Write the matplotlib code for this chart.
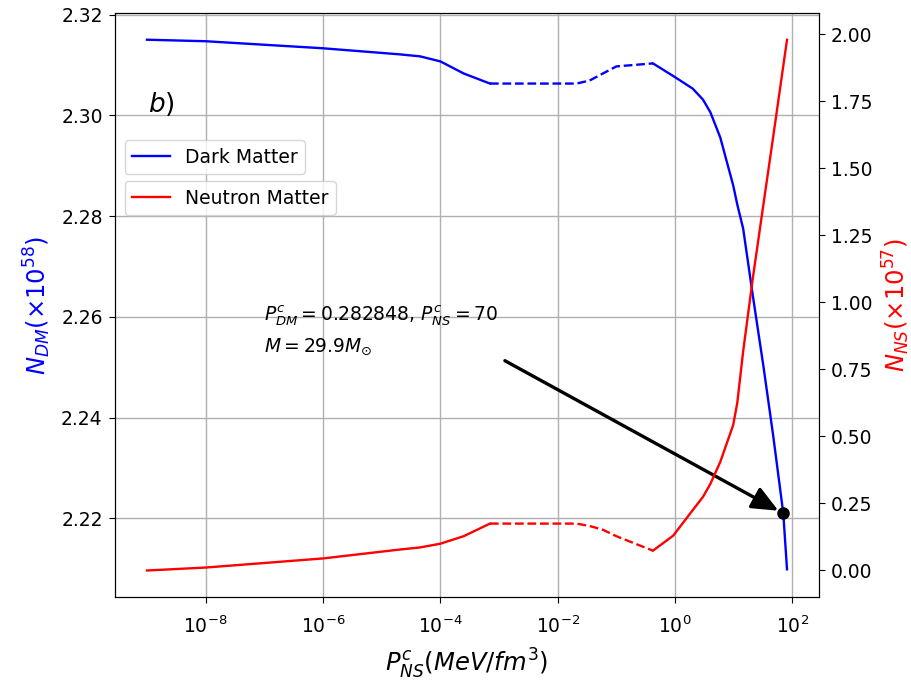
import matplotlib
matplotlib.use("Agg")
import matplotlib.pyplot as plt

# ---- data ----
# segment 1 (solid), segment 2 (dashed), segment 3 (solid)
p_seg1 = [1e-9, 1e-8, 1e-6, 2e-5, 4.5e-5, 1e-4, 2.5e-4, 7e-4]
p_seg2 = [7e-4, 2.1e-2, 3.5e-2, 5.9e-2, 0.1, 0.42]
p_seg3 = [0.42, 0.93, 2.0, 3.0, 4.0, 5.9, 9.8, 11.5, 14.5, 21, 32, 47, 70, 81]

n_dm_seg1 = [2.3150, 2.3147, 2.3133, 2.3121, 2.3117, 2.3107, 2.3083, 2.3063]
n_dm_seg2 = [2.3063, 2.3063, 2.3069, 2.3083, 2.3097, 2.3103]
n_dm_seg3 = [2.3103, 2.3078, 2.3053, 2.3031, 2.3006, 2.2956, 2.2861, 2.2823,
             2.2775, 2.2645, 2.2503, 2.2365, 2.2210, 2.2099]

n_ns_seg1 = [0.000, 0.011, 0.045, 0.078, 0.086, 0.100, 0.128, 0.175]
n_ns_seg2 = [0.175, 0.175, 0.166, 0.152, 0.128, 0.074]
n_ns_seg3 = [0.074, 0.130, 0.225, 0.275, 0.323, 0.405, 0.543, 0.625, 0.818,
             1.085, 1.364, 1.617, 1.883, 1.980]

marker_p = 70
marker_ndm = 2.221
arrow_start = (1.26e-3, 2.2513)

left_ticks = [2.22, 2.24, 2.26, 2.28, 2.30, 2.32]
right_ticks = [0.00, 0.25, 0.50, 0.75, 1.00, 1.25, 1.50, 1.75, 2.00]

# ---- figure ----
fig = plt.figure(figsize=(9.12, 6.81), dpi=100)
ax1 = fig.add_axes([0.1256, 0.1233, 0.7725, 0.8576])
ax2 = ax1.twinx()

lw = 1.7
ax1.plot(p_seg1, n_dm_seg1, color='blue', lw=lw, label='Dark Matter')
ax1.plot(p_seg2, n_dm_seg2, color='blue', lw=lw, ls='--')
ax1.plot(p_seg3, n_dm_seg3, color='blue', lw=lw)

ax2.plot(p_seg1, n_ns_seg1, color='red', lw=lw, label='Neutron Matter')
ax2.plot(p_seg2, n_ns_seg2, color='red', lw=lw, ls='--')
ax2.plot(p_seg3, n_ns_seg3, color='red', lw=lw)

ax1.set_xscale('log')
ax1.set_xlim(2.8e-10, 2.85e2)
ax1.set_ylim(2.2044, 2.3203)
ax2.set_ylim(-0.099, 2.08)
ax1.set_yticks(left_ticks)
ax2.set_yticks(right_ticks)

ax1.grid(True, color='#b0b0b0', lw=1.0)
ax1.set_axisbelow(True)

ax1.tick_params(axis='both', labelsize=13.5, length=4.5)
ax1.tick_params(axis='x', pad=9)
ax1.tick_params(axis='y', pad=4)
ax2.tick_params(labelsize=13.5, length=4.5, pad=4)

ax1.set_xlabel(r'$P^c_{NS}(MeV/fm^3)$', fontsize=17.5, labelpad=7)
ax1.set_ylabel(r'$N_{DM}(\times10^{58})$', fontsize=17.5, color='blue', labelpad=6)
ax2.set_ylabel(r'$N_{NS}(\times10^{57})$', fontsize=17.5, color='red', labelpad=6)

# marker and arrow
ax1.plot([marker_p], [marker_ndm], 'o', color='black', ms=8, zorder=5)
ax1.annotate('', xy=(marker_p, marker_ndm), xytext=arrow_start,
             arrowprops=dict(arrowstyle='-|>,head_length=0.8,head_width=0.35',
                             color='black', lw=2.4, mutation_scale=20,
                             shrinkA=0, shrinkB=4))

ax1.text(1e-7, 2.2602, r'$P^c_{DM}=0.282848$, $P^c_{NS}=70$', fontsize=13.5,
         va='center', ha='left')
ax1.text(1e-7, 2.2540, r'$M=29.9M_{\odot}$', fontsize=13.5, va='center', ha='left')

ax1.text(1.05e-9, 2.3022, r'$b)$', fontsize=19, va='center', ha='left')

ax1.legend(loc='upper left', bbox_to_anchor=(0.0142, 0.7825), borderaxespad=0,
           fontsize=13.5, framealpha=0.8)
ax2.legend(loc='upper left', bbox_to_anchor=(0.0142, 0.712), borderaxespad=0,
           fontsize=13.5, framealpha=0.8)

fig.savefig('out.png', dpi=100)
